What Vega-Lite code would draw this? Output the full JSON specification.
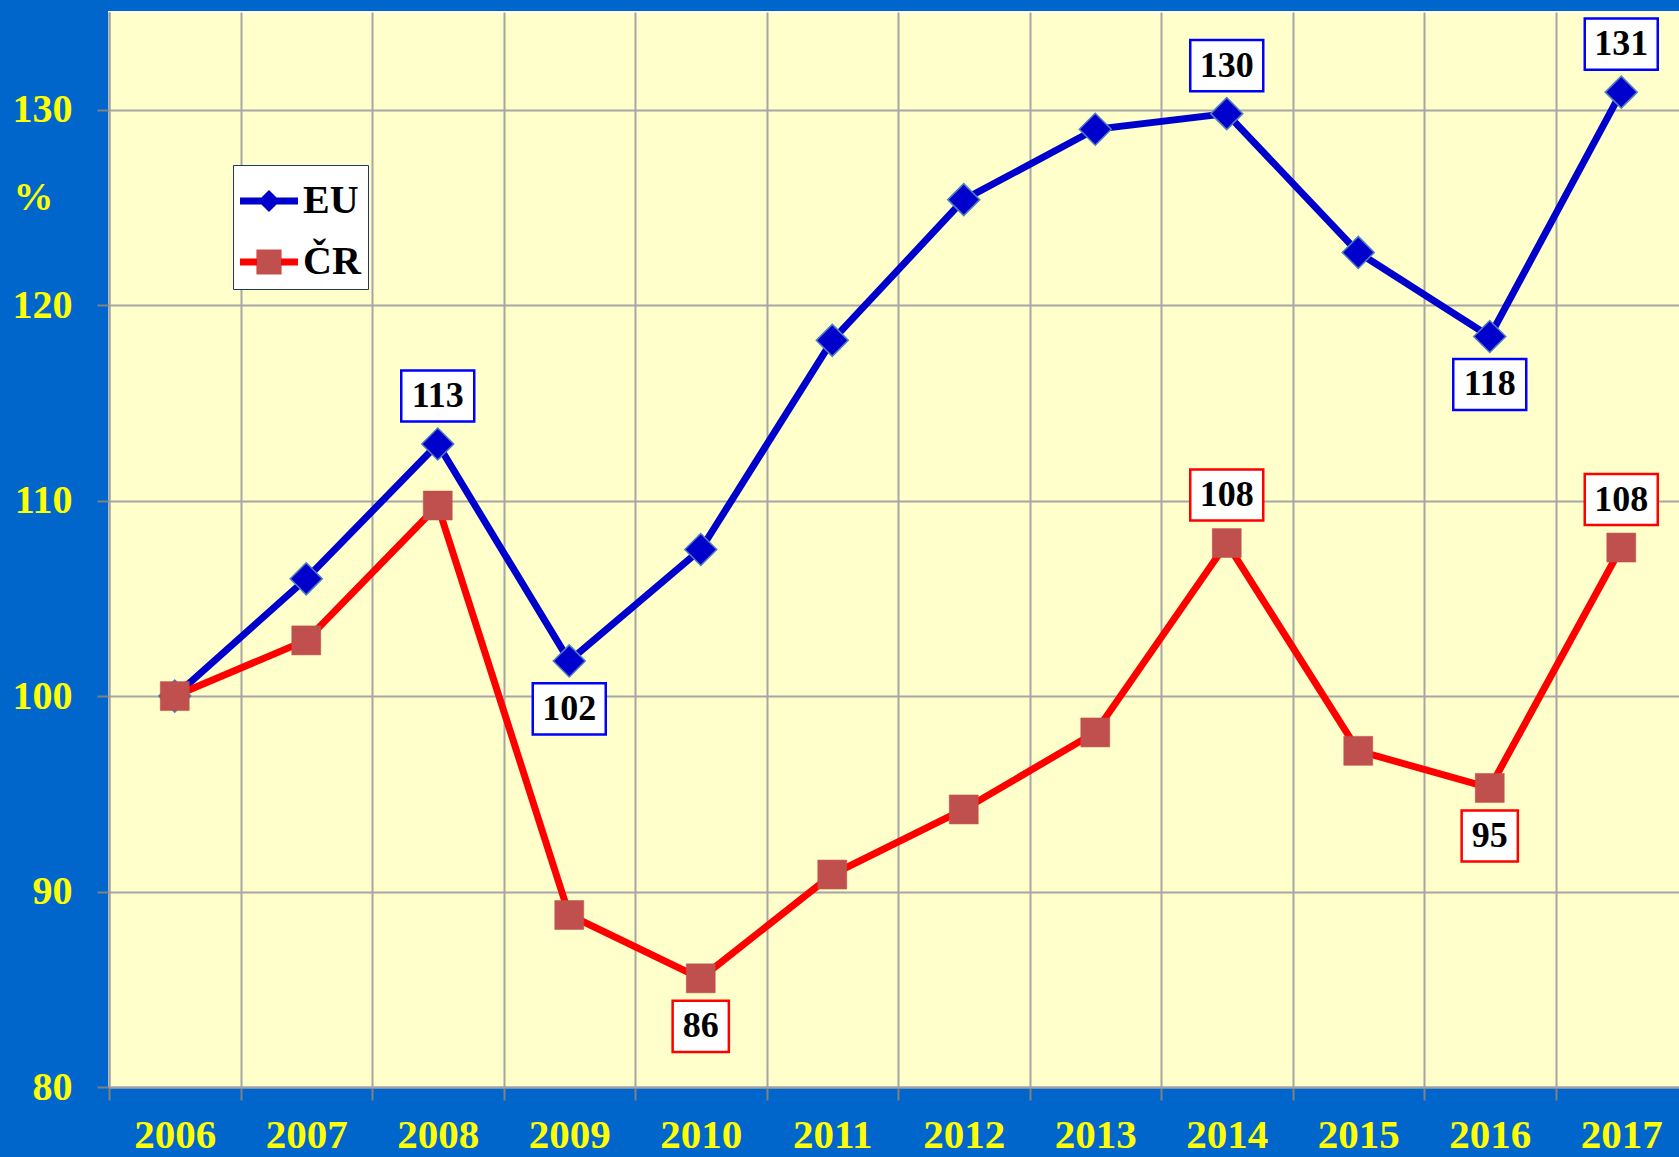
{
  "$schema": "https://vega.github.io/schema/vega-lite/v6.json",
  "autosize": {"type": "none"},
  "padding": {"left": 109, "top": 12, "right": 0, "bottom": 70},
  "width": 1578,
  "height": 1075,
  "background": "#0066CC",
  "view": {"fill": "#FFFFCC", "stroke": "#FFFFFF", "strokeWidth": 2},
  "data": {
    "values": [
      {"series": "EU", "year": "2006", "value": 100.0, "ext": null},
      {"series": "EU", "year": "2007", "value": 106.0, "ext": null},
      {"series": "EU", "year": "2008", "value": 112.9, "ext": "max"},
      {"series": "EU", "year": "2009", "value": 101.8, "ext": "min"},
      {"series": "EU", "year": "2010", "value": 107.5, "ext": null},
      {"series": "EU", "year": "2011", "value": 118.2, "ext": null},
      {"series": "EU", "year": "2012", "value": 125.4, "ext": null},
      {"series": "EU", "year": "2013", "value": 129.0, "ext": null},
      {"series": "EU", "year": "2014", "value": 129.8, "ext": "max"},
      {"series": "EU", "year": "2015", "value": 122.7, "ext": null},
      {"series": "EU", "year": "2016", "value": 118.4, "ext": "min"},
      {"series": "EU", "year": "2017", "value": 130.9, "ext": "max"},
      {"series": "ČR", "year": "2006", "value": 100.0, "ext": null},
      {"series": "ČR", "year": "2007", "value": 102.85, "ext": null},
      {"series": "ČR", "year": "2008", "value": 109.75, "ext": null},
      {"series": "ČR", "year": "2009", "value": 88.8, "ext": null},
      {"series": "ČR", "year": "2010", "value": 85.56, "ext": "min"},
      {"series": "ČR", "year": "2011", "value": 90.87, "ext": null},
      {"series": "ČR", "year": "2012", "value": 94.2, "ext": null},
      {"series": "ČR", "year": "2013", "value": 98.14, "ext": null},
      {"series": "ČR", "year": "2014", "value": 107.83, "ext": "max"},
      {"series": "ČR", "year": "2015", "value": 97.2, "ext": null},
      {"series": "ČR", "year": "2016", "value": 95.3, "ext": "min"},
      {"series": "ČR", "year": "2017", "value": 107.6, "ext": "max"}
    ]
  },
  "encoding": {
    "x": {
      "field": "year",
      "type": "ordinal",
      "scale": {"type": "point", "padding": 0.5},
      "axis": {
        "title": null,
        "labelAngle": 0,
        "labelFont": "Liberation Serif",
        "labelFontWeight": "bold",
        "labelFontSize": 41,
        "labelColor": "#FFFF00",
        "labelBaseline": "alphabetic",
        "labelPadding": 47,
        "tickSize": 13,
        "tickColor": "#808080",
        "tickWidth": 2,
        "tickOffset": -65.75,
        "labelOffset": 65.75,
        "grid": true,
        "gridColor": "#A6A6A6",
        "gridWidth": 2,
        "domainColor": "#A0A0A0",
        "domainWidth": 2
      }
    },
    "y": {
      "field": "value",
      "type": "quantitative",
      "scale": {"domain": [80, 135], "nice": false, "zero": false},
      "axis": {
        "values": [80, 90, 100, 110, 120, 130],
        "title": "%",
        "titleAngle": 0,
        "titleX": -76,
        "titleY": 185,
        "titleAlign": "center",
        "titleBaseline": "middle",
        "titleFont": "Liberation Serif",
        "titleFontSize": 40,
        "titleFontWeight": "bold",
        "titleColor": "#FFFF00",
        "labelFont": "Liberation Serif",
        "labelFontSize": 40,
        "labelFontWeight": "bold",
        "labelColor": "#FFFF00",
        "labelPadding": 25,
        "labelFlush": false,
        "tickSize": 12,
        "tickColor": "#808080",
        "tickWidth": 2,
        "grid": true,
        "gridColor": "#A6A6A6",
        "gridWidth": 2,
        "domainColor": "#A0A0A0",
        "domainWidth": 2
      }
    }
  },
  "layer": [
    {
      "mark": {"type": "line", "strokeWidth": 7},
      "encoding": {
        "color": {
          "field": "series",
          "type": "nominal",
          "scale": {"domain": ["EU", "ČR"], "range": ["#0000CC", "#FF0000"]},
          "legend": {
            "orient": "none",
            "legendX": 124,
            "legendY": 153,
            "title": null,
            "fillColor": "#FFFFFF",
            "strokeColor": "#1F3864",
            "padding": 7,
            "symbolSize": 3364,
            "symbolType": "M-1,-0.12L1,-0.12L1,0.12L-1,0.12Z",
            "symbolStrokeWidth": 0,
            "labelFont": "Liberation Serif",
            "labelFontSize": 40,
            "labelFontWeight": "bold",
            "labelColor": "#000000",
            "labelOffset": 5,
            "rowPadding": 12,
            "encode": {
              "symbols": {
                "update": {
                  "shape": {"signal": "datum.value === 'EU' ? 'M-1,-0.12L-0.26,-0.12L0,-0.38L0.26,-0.12L1,-0.12L1,0.12L0.26,0.12L0,0.38L-0.26,0.12L-1,0.12Z' : 'M-1,-0.12L-0.43,-0.12L-0.43,-0.43L0.43,-0.43L0.43,-0.12L1,-0.12L1,0.12L0.43,0.12L0.43,0.43L-0.43,0.43L-0.43,0.12L-1,0.12Z'"},
                  "fill": {"signal": "datum.value === 'EU' ? '#0000CC' : {gradient: 'linear', x1: 0, y1: 0, x2: 1, y2: 0, stops: [{offset: 0, color: '#FF0000'}, {offset: 0.285, color: '#FF0000'}, {offset: 0.285, color: '#C0504D'}, {offset: 0.715, color: '#C0504D'}, {offset: 0.715, color: '#FF0000'}, {offset: 1, color: '#FF0000'}]}"},
                  "strokeWidth": {"value": 0},
                  "opacity": {"value": 1}
                }
              }
            }
          }
        }
      }
    },
    {
      "transform": [{"filter": "datum.series === 'EU'"}],
      "mark": {"type": "point", "shape": "diamond", "filled": true, "size": 1024, "fill": "#0000CC", "stroke": "#4F81BD", "strokeWidth": 1.5, "opacity": 1}
    },
    {
      "transform": [{"filter": "datum.series === 'ČR'"}],
      "mark": {"type": "point", "shape": "square", "filled": true, "size": 841, "fill": "#C0504D", "stroke": "#C0504D", "strokeWidth": 0.5, "opacity": 1}
    },
    {
      "transform": [{"filter": "datum.ext === 'max'"}],
      "mark": {"type": "point", "filled": true, "fill": "#FFFFFF", "strokeWidth": 2.5, "size": 5329, "yOffset": -48, "opacity": 1},
      "encoding": {
        "shape": {"condition": {"test": "datum.value < 99.5", "value": "M-0.77,-0.7L0.77,-0.7L0.77,0.7L-0.77,0.7Z"}, "value": "M-1,-0.7L1,-0.7L1,0.7L-1,0.7Z"},
        "stroke": {"field": "series", "type": "nominal", "scale": {"domain": ["EU", "ČR"], "range": ["#0000FF", "#FF0000"]}, "legend": null}
      }
    },
    {
      "transform": [{"filter": "datum.ext === 'min'"}],
      "mark": {"type": "point", "filled": true, "fill": "#FFFFFF", "strokeWidth": 2.5, "size": 5329, "yOffset": 48, "opacity": 1},
      "encoding": {
        "shape": {"condition": {"test": "datum.value < 99.5", "value": "M-0.77,-0.7L0.77,-0.7L0.77,0.7L-0.77,0.7Z"}, "value": "M-1,-0.7L1,-0.7L1,0.7L-1,0.7Z"},
        "stroke": {"field": "series", "type": "nominal", "scale": {"domain": ["EU", "ČR"], "range": ["#0000FF", "#FF0000"]}, "legend": null}
      }
    },
    {
      "transform": [{"filter": "datum.ext === 'max'"}],
      "mark": {"type": "text", "font": "Liberation Serif", "fontSize": 36, "fontWeight": "bold", "color": "#000000", "yOffset": -48, "baseline": "middle", "align": "center"},
      "encoding": {"text": {"field": "value", "type": "quantitative", "format": ".0f"}}
    },
    {
      "transform": [{"filter": "datum.ext === 'min'"}],
      "mark": {"type": "text", "font": "Liberation Serif", "fontSize": 36, "fontWeight": "bold", "color": "#000000", "yOffset": 48, "baseline": "middle", "align": "center"},
      "encoding": {"text": {"field": "value", "type": "quantitative", "format": ".0f"}}
    }
  ]
}
